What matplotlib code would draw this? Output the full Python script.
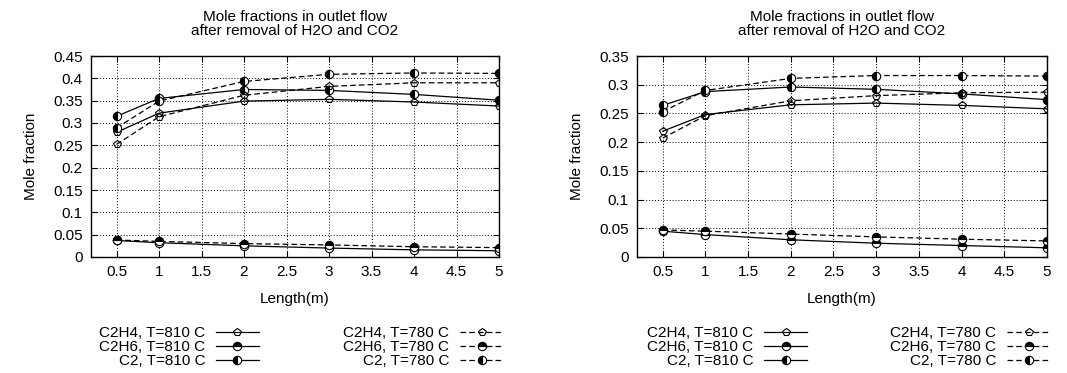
import matplotlib
matplotlib.use("Agg")
import matplotlib.pyplot as plt

plt.rcParams['font.family'] = ['Liberation Sans', 'DejaVu Sans']
plt.rcParams['font.size'] = 11

length = [0.5, 1, 2, 3, 4, 5]

# Left chart
L_c2h4_810 = [0.279, 0.322, 0.349, 0.353, 0.347, 0.338]
L_c2h6_810 = [0.037, 0.032, 0.025, 0.020, 0.016, 0.014]
L_c2_810 = [0.315, 0.355, 0.375, 0.373, 0.364, 0.351]
L_c2h4_780 = [0.252, 0.314, 0.362, 0.382, 0.390, 0.390]
L_c2h6_780 = [0.038, 0.035, 0.030, 0.027, 0.023, 0.021]
L_c2_780 = [0.289, 0.349, 0.393, 0.409, 0.412, 0.411]

# Right chart
R_c2h4_810 = [0.219, 0.248, 0.265, 0.268, 0.264, 0.258]
R_c2h6_810 = [0.045, 0.039, 0.030, 0.024, 0.020, 0.016]
R_c2_810 = [0.264, 0.288, 0.296, 0.292, 0.284, 0.274]
R_c2h4_780 = [0.207, 0.246, 0.272, 0.281, 0.286, 0.287]
R_c2h6_780 = [0.047, 0.045, 0.040, 0.035, 0.031, 0.028]
R_c2_780 = [0.253, 0.290, 0.311, 0.316, 0.316, 0.315]

labels = ["C2H4, T=810 C", "C2H6, T=810 C", "C2, T=810 C",
          "C2H4, T=780 C", "C2H6, T=780 C", "C2, T=780 C"]

title = "Mole fractions in outlet flow\nafter removal of H2O and CO2"
xticks = [0.5, 1, 1.5, 2, 2.5, 3, 3.5, 4, 4.5, 5]
xtick_labels = ["0.5", "1", "1.5", "2", "2.5", "3", "3.5", "4", "4.5", "5"]

markers = [dict(marker='p', fillstyle='none', ms=5.5),
           dict(marker='o', fillstyle='top', ms=6),
           dict(marker='o', fillstyle='left', ms=6)]

fig = plt.figure(figsize=(10.67, 3.73), dpi=100)

def draw(rect, series, ymax, yticks, ytick_labels, leg_x):
    ax = fig.add_axes(rect)
    handles = []
    for i, y in enumerate(series):
        ls = '-' if i < 3 else (0, (4.5, 2.5))
        mk = markers[i % 3]
        h, = ax.plot(length, y, color='black', lw=0.9, ls=ls,
                     markerfacecolor='black', markerfacecoloralt='white',
                     markeredgecolor='black', markeredgewidth=0.8, **mk)
        handles.append(h)
    ax.set_xlim(0.2, 5)
    ax.set_ylim(0, ymax)
    ax.set_xticks(xticks)
    ax.set_xticklabels(xtick_labels)
    ax.set_yticks(yticks)
    ax.set_yticklabels(ytick_labels)
    ax.grid(True, color='black', ls=(0, (1, 2)), lw=0.7)
    ax.tick_params(direction='in', top=True, right=True, length=4, width=0.8, pad=6)
    for s in ax.spines.values():
        s.set_linewidth(1.0)
    ax.set_title(title, fontsize=11, pad=15, linespacing=1.0)
    ax.set_xlabel("Length(m)", fontsize=11, labelpad=9)
    ax.set_ylabel("Mole fraction", fontsize=11, labelpad=11)
    for hs, ls_, x in ((handles[:3], labels[:3], leg_x[0]), (handles[3:], labels[3:], leg_x[1])):
        leg = fig.legend(hs, ls_, loc='center right',
                         bbox_to_anchor=(x, 0.07), frameon=False,
                         markerfirst=False, handlelength=2.8, handletextpad=0.7,
                         labelspacing=0.0, fontsize=11, borderaxespad=0)
        for t in leg.get_texts():
            t.set_ha('right')
    return ax

left_ticks = [0, 0.05, 0.1, 0.15, 0.2, 0.25, 0.3, 0.35, 0.4, 0.45]
left_tl = ["0", "0.05", "0.1", "0.15", "0.2", "0.25", "0.3", "0.35", "0.4", "0.45"]
right_ticks = [0, 0.05, 0.1, 0.15, 0.2, 0.25, 0.3, 0.35]
right_tl = ["0", "0.05", "0.1", "0.15", "0.2", "0.25", "0.3", "0.35"]

draw([91/1067, 116/373, 408/1067, 201/373],
     [L_c2h4_810, L_c2h6_810, L_c2_810, L_c2h4_780, L_c2h6_780, L_c2_780],
     0.45, left_ticks, left_tl, (265/1067, 509/1067))
draw([637/1067, 116/373, 410/1067, 201/373],
     [R_c2h4_810, R_c2h6_810, R_c2_810, R_c2h4_780, R_c2h6_780, R_c2_780],
     0.35, right_ticks, right_tl, (813/1067, 1056/1067))

fig.savefig("out.png", dpi=100)
